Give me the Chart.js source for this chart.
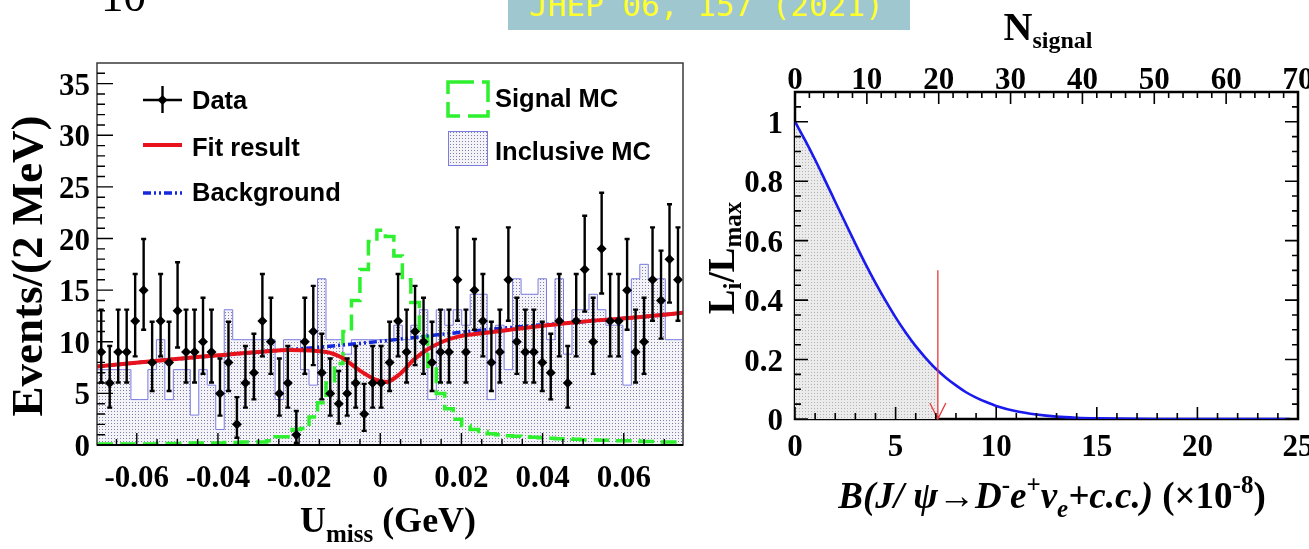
<!DOCTYPE html>
<html>
<head>
<meta charset="utf-8">
<script src="https://cdn.jsdelivr.net/npm/chart.js@4.4.1/dist/chart.umd.min.js"></script>
<style>
html,body{margin:0;padding:0;background:#fff;}
body{width:1309px;height:549px;position:relative;overflow:hidden;}
canvas{position:absolute;top:0;}
#c1{left:0;}
#c2{left:700px;}
#ten{position:absolute;left:101px;top:-26px;font:45px/1 "Liberation Serif",serif;color:#000;white-space:nowrap;}
#banner{position:absolute;left:508px;top:0;width:402px;height:30px;background:#9fc7cf;}
#jhep{position:absolute;left:529px;top:-10px;font:31px/1 "DejaVu Sans Mono",monospace;color:#ffff2e;white-space:nowrap;}
</style>
</head>
<body>
<canvas id="c1" width="700" height="549"></canvas>
<canvas id="c2" width="609" height="549"></canvas>
<div id="ten">10</div>
<div id="banner"></div>
<div id="jhep">JHEP 06, 157 (2021)</div>
<script>
// ---------------- LEFT PANEL DATA ----------------
const xMin = -0.0698, xMax = 0.0746;          // axis range as drawn
const binStart = -0.0698, binWidth = 0.00209;  // histogram bins as drawn
const dataCounts = [9,6,9,9,12,15,8,12,8,13, 9,9,10,9,5,8,2,6,7,12, 10,5,6,1,10,11,7,5,4,5,
                    6,3,6,6,8,12,9,11,10,8, 9,9,16,9,15,12,8,9,16,10, 9,9,8,7,12,6,12,17,10,19,
                    12,12,15,9,10,16,14,18,16];
// Poisson (Garwood 68%) lower / upper errors, indexed by count
const poisLo = [0,0.827,1.292,1.633,1.914,2.159,2.380,2.581,2.768,2.943,3.108,3.265,3.415,3.559,3.697,3.831,3.960,4.085,4.206,4.324,4.439];
const poisHi = [1.841,2.299,2.637,2.918,3.162,3.382,3.583,3.770,3.944,4.110,4.266,4.416,4.559,4.697,4.830,4.958,5.083,5.204,5.321,5.436,5.548];
const signalMC = [0.1,0.1,0.1,0.1,0.1,0.1,0.1,0.1,0.15,0.15, 0.15,0.15,0.2,0.2,0.2,0.2,0.25,0.25,0.3,0.3,
                  0.3,0.4,0.8,0.8,1.5,1.6,2.7,4.1,6.0,7.9, 11.0,14.0,17.0,19.7,20.8,20.2,18.3,16.0,13.8,10.5,
                  7.6,5.0,3.5,2.5,1.9,1.5,1.3,1.1,1.0,0.9, 0.85,0.8,0.75,0.7,0.65,0.6,0.6,0.55,0.5,0.5,
                  0.45,0.45,0.4,0.4,0.4,0.35,0.35,0.3,0.3];
const inclusiveMC = [7.3,7.3,7.3,7.3,7.3,4.4,4.4,7.3,10.2,4.4, 7.3,7.3,2.9,7.3,5.8,1.5,13.1,10.2,10.2,10.2,
                     10.2,10.2,4.4,10.2,10.2,7.3,5.8,16.1,10.2,10.2, 8.8,10.2,10.2,10.2,10.2,10.2,11.6,10.2,11.6,13.1,
                     4.4,13.1,11.6,13.1,11.6,14.6,14.6,4.4,11.6,7.3, 16.1,14.6,14.6,16.1,10.2,16.1,8.8,13.1,13.1,14.6,
                     13.1,11.6,11.6,5.8,16.1,17.5,16.1,16.1,10.2];
const fitX = [-0.0698,-0.0510,-0.0300,-0.0222,-0.0133,-0.0092,-0.0050,-0.0010,0.0015,0.0049,0.0081,0.0114,0.0153,0.0192,0.0246,0.0327,0.0411,0.0484,0.0641,0.0746];
const fitY = [7.6,8.3,9.0,9.2,9.0,8.4,7.2,6.3,6.1,6.9,8.2,9.2,10.0,10.5,10.8,11.2,11.6,11.9,12.4,12.8];
const bkgX = [-0.0698,-0.0510,-0.0300,-0.0143,0.0013,0.0170,0.0327,0.0484,0.0641,0.0746];
const bkgY = [7.6,8.3,9.0,9.5,10.1,10.8,11.4,11.9,12.4,12.8];
const xTickVals1 = [-0.06,-0.04,-0.02,0,0.02,0.04,0.06];
const xTickLabels1 = ['-0.06','-0.04','-0.02','0','0.02','0.04','0.06'];
const yTickVals1 = [0,5,10,15,20,25,30,35];
const yTickLabels1 = ['0','5','10','15','20','25','30','35'];

// ---------------- RIGHT PANEL DATA ----------------
const likeB = [0,0.5,1,1.5,2,2.5,3,3.5,4,4.5,5,5.5,6,6.5,7,7.5,8,8.5,9,9.5,10,11,12,13,14,15,16,17,18,19,20,21,22,23,24,24.6];
const likeL = [1.000,0.938,0.872,0.802,0.731,0.660,0.590,0.522,0.458,0.398,0.342,0.291,0.245,0.205,0.169,0.139,0.113,0.090,0.072,0.057,0.044,0.026,0.015,0.008,0.0043,0.0022,0.0011,0.0005,0.0002,0.0001,0,0,0,0,0,0];
const upperLimit = 7.1, upperLimitL = 0.163, arrowTopL = 0.5;
const bTickVals = [0,5,10,15,20,25];
const bTickLabels = ['0','5','10','15','20','25'];
const nTickVals = [0,10,20,30,40,50,60,70];
const nTickLabels = ['0','10','20','30','40','50','60','70'];
const lTickVals = [0,0.2,0.4,0.6,0.8,1];
const lTickLabels = ['0','0.2','0.4','0.6','0.8','1'];

// ---------------- helpers ----------------
const serif = '"Liberation Serif","Times New Roman",serif';
const sans = '"Liberation Sans",Arial,sans-serif';
const edges = dataCounts.map((_, i) => binStart + i * binWidth).concat([binStart + dataCounts.length * binWidth]);
const centers = dataCounts.map((_, i) => binStart + (i + 0.5) * binWidth);
function stepPts(vals){ const p = vals.map((v,i)=>({x:edges[i], y:v})); p.push({x:edges[vals.length], y:vals[vals.length-1]}); return p; }
function makePattern(ctx, bg, dot, size){
  const c = document.createElement('canvas'); c.width = size; c.height = size;
  const g = c.getContext('2d'); g.fillStyle = bg; g.fillRect(0,0,size,size);
  g.fillStyle = dot; g.fillRect(0,0,1,1);
  return ctx.createPattern(c, 'repeat');
}
function rich(ctx, parts, x, y, align){
  let w = 0;
  parts.forEach(p => { ctx.font = p.f; p.w = ctx.measureText(p.t).width; w += p.w; });
  let cx = align === 'center' ? x - w/2 : x;
  ctx.textAlign = 'left';
  parts.forEach(p => { ctx.font = p.f; ctx.fillText(p.t, cx, y + (p.dy || 0)); cx += p.w; });
}
function diamond(ctx, x, y, r){ ctx.beginPath(); ctx.moveTo(x-r,y); ctx.lineTo(x,y-r); ctx.lineTo(x+r,y); ctx.lineTo(x,y+r); ctx.closePath(); ctx.fill(); }

const ctx1 = document.getElementById('c1').getContext('2d');
const ctx2 = document.getElementById('c2').getContext('2d');
const mcPattern = makePattern(ctx1, '#f3f3f8', '#7f7fa8', 3);
const greyPattern = makePattern(ctx2, '#ebebeb', '#b4b4b4', 3);

const GREEN = '#2ef02e', RED = '#e8121c', BLUE = '#1428dc', MCLINE = '#7c7ce0';
const BKG_DASH = [8,3,2,3,2,3];

// ---------------- LEFT CHART ----------------
const leftDeco = {
  id: 'leftDeco',
  beforeDatasetDraw(chart, args){
    if (args.index !== 0) return;
    const ctx = chart.ctx, xs = chart.scales.x, ys = chart.scales.y;
    ctx.save(); ctx.strokeStyle = '#000'; ctx.lineWidth = 2.4;
    dataCounts.forEach((n, i) => {
      const px = xs.getPixelForValue(centers[i]);
      const top = ys.getPixelForValue(n + poisHi[n]);
      const bot = ys.getPixelForValue(Math.max(0, n - poisLo[n]));
      ctx.beginPath();
      ctx.moveTo(px, top); ctx.lineTo(px, bot);
      ctx.moveTo(px-2.5, top); ctx.lineTo(px+2.5, top);
      ctx.moveTo(px-2.5, bot); ctx.lineTo(px+2.5, bot);
      ctx.stroke();
    });
    ctx.restore();
  },
  afterDraw(chart){
    const ctx = chart.ctx, a = chart.chartArea, xs = chart.scales.x, ys = chart.scales.y;
    ctx.save();
    ctx.strokeStyle = '#3a3a3a'; ctx.lineWidth = 1.5;
    ctx.strokeRect(a.left, a.top, a.right - a.left, a.bottom - a.top);
    ctx.strokeStyle = '#000'; ctx.lineWidth = 2;
    ctx.beginPath(); ctx.moveTo(a.left, a.bottom); ctx.lineTo(a.right, a.bottom); ctx.stroke();
    ctx.lineWidth = 1.4; ctx.beginPath();
    for (let v = 0; v <= 36; v++){ const y = ys.getPixelForValue(v); const L = v % 5 === 0 ? 16 : 8; ctx.moveTo(a.left, y); ctx.lineTo(a.left + L, y); }
    for (let i = -13; i <= 14; i++){ const x = xs.getPixelForValue(i * 0.005); const L = (i % 4 === 0) ? 12 : 6; ctx.moveTo(x, a.bottom); ctx.lineTo(x, a.bottom - L); }
    ctx.stroke();
    ctx.fillStyle = '#000'; ctx.font = 'bold 31px ' + serif; ctx.textBaseline = 'alphabetic';
    ctx.textAlign = 'right';
    yTickVals1.forEach((v, i) => ctx.fillText(yTickLabels1[i], a.left - 7, ys.getPixelForValue(v) + 11));
    ctx.textAlign = 'center';
    xTickVals1.forEach((v, i) => ctx.fillText(xTickLabels1[i], xs.getPixelForValue(v), 487));
    ctx.save(); ctx.translate(42, 266); ctx.rotate(-Math.PI/2);
    ctx.font = 'bold 45px ' + serif; ctx.textAlign = 'center'; ctx.fillText('Events/(2 MeV)', 0, 0);
    ctx.restore();
    rich(ctx, [{t:'U', f:'bold 36px '+serif}, {t:'miss', f:'bold 25px '+serif, dy:10}, {t:' (GeV)', f:'bold 36px '+serif}], 388, 532, 'center');
    // legend
    ctx.strokeStyle = '#000'; ctx.lineWidth = 2.4;
    ctx.beginPath(); ctx.moveTo(143, 100); ctx.lineTo(182, 100); ctx.moveTo(162.5, 86); ctx.lineTo(162.5, 113); ctx.stroke();
    ctx.fillStyle = '#000'; diamond(ctx, 162.5, 100, 5);
    ctx.strokeStyle = RED; ctx.lineWidth = 4;
    ctx.beginPath(); ctx.moveTo(143, 145); ctx.lineTo(182, 145); ctx.stroke();
    ctx.strokeStyle = BLUE; ctx.lineWidth = 3.5; ctx.setLineDash(BKG_DASH);
    ctx.beginPath(); ctx.moveTo(143, 193); ctx.lineTo(182, 193); ctx.stroke();
    ctx.strokeStyle = GREEN; ctx.lineWidth = 3.5; ctx.setLineDash([26,8]);
    ctx.strokeRect(448, 82, 40, 34);
    ctx.setLineDash([]);
    ctx.fillStyle = mcPattern; ctx.fillRect(448, 131, 40, 35);
    ctx.strokeStyle = MCLINE; ctx.lineWidth = 1; ctx.strokeRect(448.5, 131.5, 39, 34);
    ctx.fillStyle = '#000'; ctx.font = 'bold 25.5px ' + sans; ctx.textAlign = 'left';
    ctx.fillText('Data', 192, 109);
    ctx.fillText('Fit result', 192, 156);
    ctx.fillText('Background', 192, 201);
    ctx.fillText('Signal MC', 495, 107);
    ctx.fillText('Inclusive MC', 495, 160);
    ctx.restore();
  }
};

new Chart(ctx1, {
  type: 'scatter',
  data: { datasets: [
    { label: 'Data', data: centers.map((x, i) => ({x, y: dataCounts[i]})), showLine: false,
      pointStyle: 'rectRot', pointRadius: 5, backgroundColor: '#000', borderColor: '#000', borderWidth: 0, order: 1 },
    { label: 'Fit result', data: fitX.map((x, i) => ({x, y: fitY[i]})), showLine: true, borderColor: RED, borderWidth: 4,
      pointRadius: 0, cubicInterpolationMode: 'monotone', fill: false, order: 2 },
    { label: 'Background', data: bkgX.map((x, i) => ({x, y: bkgY[i]})), showLine: true, borderColor: BLUE, borderWidth: 3.5,
      borderDash: BKG_DASH, pointRadius: 0, cubicInterpolationMode: 'monotone', fill: false, order: 3 },
    { label: 'Signal MC', data: stepPts(signalMC), showLine: true, stepped: 'after', borderColor: GREEN, borderWidth: 3.5,
      borderDash: [16,7], pointRadius: 0, fill: false, order: 4 },
    { label: 'Inclusive MC', data: stepPts(inclusiveMC), showLine: true, stepped: 'after', borderColor: MCLINE, borderWidth: 1,
      backgroundColor: mcPattern, pointRadius: 0, fill: 'origin', order: 5 }
  ]},
  options: {
    responsive: false, animation: false, events: [],
    plugins: { legend: { display: false }, tooltip: { enabled: false } },
    layout: { padding: { left: 97, right: 17, top: 63, bottom: 104 } },
    scales: {
      x: { type: 'linear', min: xMin, max: xMax, grid: { display: false }, border: { display: false }, ticks: { display: false }, afterFit: s => { s.height = 0; } },
      y: { type: 'linear', min: 0, max: 37, grid: { display: false }, border: { display: false }, ticks: { display: false }, afterFit: s => { s.width = 0; } }
    }
  },
  plugins: [leftDeco]
});

// ---------------- RIGHT CHART ----------------
const rightDeco = {
  id: 'rightDeco',
  beforeDatasetsDraw(chart){
    const ctx = chart.ctx, a = chart.chartArea;
    ctx.save(); ctx.strokeStyle = '#000'; ctx.lineWidth = 2.5;
    ctx.strokeRect(a.left, a.top, a.right - a.left, a.bottom - a.top);
    ctx.restore();
  },
  afterDatasetsDraw(chart){
    const ctx = chart.ctx, a = chart.chartArea, xs = chart.scales.x, x2 = chart.scales.x2, ys = chart.scales.y;
    ctx.save();
    const ax = xs.getPixelForValue(upperLimit), ay0 = ys.getPixelForValue(arrowTopL), ay1 = ys.getPixelForValue(0);
    ctx.strokeStyle = '#e8383c'; ctx.lineWidth = 1.3;
    ctx.beginPath(); ctx.moveTo(ax, ay0); ctx.lineTo(ax, ay1);
    ctx.moveTo(ax - 8, ay1 - 16); ctx.lineTo(ax, ay1); ctx.lineTo(ax + 8, ay1 - 16); ctx.stroke();
    ctx.strokeStyle = '#000'; ctx.lineWidth = 1.6; ctx.beginPath();
    for (let v = 0; v <= 25; v++){ const x = xs.getPixelForValue(v); const L = v % 5 === 0 ? 12 : 6; ctx.moveTo(x, a.bottom); ctx.lineTo(x, a.bottom - L); }
    for (let v = 0; v <= 70; v += 2){ const x = x2.getPixelForValue(v); const L = v % 10 === 0 ? 12 : 6; ctx.moveTo(x, a.top); ctx.lineTo(x, a.top + L); }
    for (let i = 0; i <= 21; i++){ const y = ys.getPixelForValue(i * 0.05); const L = i % 4 === 0 ? 13 : 6;
      ctx.moveTo(a.left, y); ctx.lineTo(a.left + L, y); ctx.moveTo(a.right, y); ctx.lineTo(a.right - L, y); }
    ctx.stroke();
    ctx.fillStyle = '#000'; ctx.font = 'bold 31px ' + serif; ctx.textBaseline = 'alphabetic';
    ctx.textAlign = 'center';
    bTickVals.forEach((v, i) => ctx.fillText(bTickLabels[i], xs.getPixelForValue(v), 456));
    nTickVals.forEach((v, i) => ctx.fillText(nTickLabels[i], x2.getPixelForValue(v), 89));
    ctx.textAlign = 'right';
    lTickVals.forEach((v, i) => ctx.fillText(lTickLabels[i], a.left - 12, ys.getPixelForValue(v) + 11));
    rich(ctx, [{t:'N', f:'bold 40px '+serif}, {t:'signal', f:'bold 24px '+serif, dy:8}], 348, 40, 'center');
    ctx.save(); ctx.translate(34, 258); ctx.rotate(-Math.PI/2);
    rich(ctx, [{t:'L', f:'bold 37px '+serif}, {t:'i', f:'bold 25px '+serif, dy:7}, {t:'/L', f:'bold 37px '+serif}, {t:'max', f:'bold 25px '+serif, dy:7}], 0, 0, 'center');
    ctx.restore();
    const BI = 'italic bold 37px ' + serif, BIs = 'italic bold 25px ' + serif, Bn = 'bold 37px ' + serif, Bs = 'bold 25px ' + serif;
    rich(ctx, [{t:'B(J/ \u03C8\u2192D', f:BI}, {t:'-', f:Bs, dy:-15}, {t:'e', f:BI}, {t:'+', f:Bs, dy:-15}, {t:'\u03BD', f:BI},
               {t:'e', f:BIs, dy:9}, {t:'+c.c.)', f:BI}, {t:' (\u00D710', f:Bn}, {t:'-8', f:Bs, dy:-15}, {t:')', f:Bn}], 352, 508, 'center');
    ctx.restore();
  }
};

const lim = likeB.map((b, i) => ({x: b, y: likeL[i]})).filter(p => p.x <= upperLimit);
lim.push({x: upperLimit, y: upperLimitL});

new Chart(ctx2, {
  type: 'scatter',
  data: { datasets: [
    { label: 'L', data: likeB.map((b, i) => ({x: b, y: likeL[i]})), showLine: true, borderColor: '#1a1aee', borderWidth: 2.6,
      pointRadius: 0, cubicInterpolationMode: 'monotone', fill: false, order: 1 },
    { label: 'fill', data: lim, showLine: true, borderWidth: 0, borderColor: 'rgba(0,0,0,0)', backgroundColor: greyPattern,
      pointRadius: 0, cubicInterpolationMode: 'monotone', fill: 'origin', order: 2 }
  ]},
  options: {
    responsive: false, animation: false, events: [],
    plugins: { legend: { display: false }, tooltip: { enabled: false } },
    layout: { padding: { left: 95, right: 11, top: 92, bottom: 130 } },
    scales: {
      x: { type: 'linear', min: 0, max: 25, grid: { display: false }, border: { display: false }, ticks: { display: false }, afterFit: s => { s.height = 0; } },
      x2: { type: 'linear', position: 'top', min: 0, max: 70, grid: { display: false }, border: { display: false }, ticks: { display: false }, afterFit: s => { s.height = 0; } },
      y: { type: 'linear', min: 0, max: 1.1, grid: { display: false }, border: { display: false }, ticks: { display: false }, afterFit: s => { s.width = 0; } }
    }
  },
  plugins: [rightDeco]
});
</script>
</body>
</html>
